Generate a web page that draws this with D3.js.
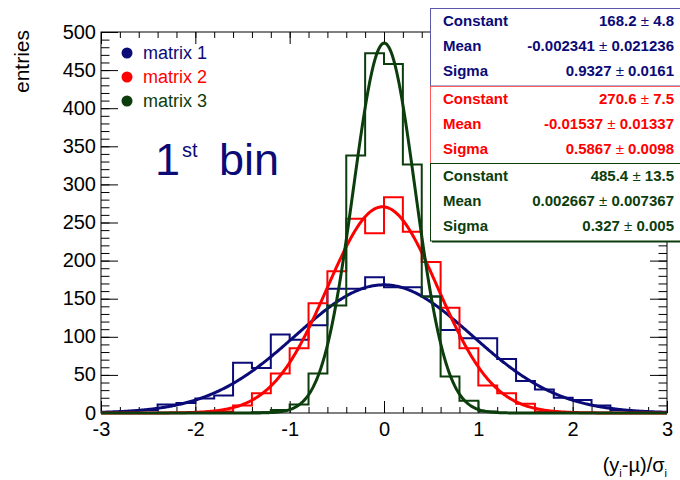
<!DOCTYPE html>
<html>
<head>
<meta charset="utf-8">
<script src="https://cdn.jsdelivr.net/npm/d3@7"></script>
<style>
  body { margin: 0; background: #fff; }
  svg { font-family: "Liberation Sans", Arial, sans-serif; }
</style>
</head>
<body>
<div id="chart"></div>
<script>
/************ pull distributions, 1st bin *****************/

// bin lower edges run from -3 to 2.8 in steps of 0.2
const binEdges = d3.range(30).map(i => -3 + i * 0.2);

// entries per bin
const matrix1 = [1, 2, 4, 11, 13, 19, 23, 66, 59, 103, 96, 115, 163, 163, 178,
                 165, 165, 153, 109, 98, 98, 71, 42, 31, 20, 17, 10, 4, 2, 1];
const matrix2 = [0, 0, 0, 0, 0, 0, 2, 10, 26, 52, 85, 144, 186, 255, 236,
                 283, 238, 198, 138, 85, 36, 26, 12, 2, 1, 0, 0, 0, 0, 0];
const matrix3 = [0, 0, 0, 0, 0, 0, 0, 0, 1, 4, 11, 52, 141, 338, 472,
                 458, 326, 153, 48, 16, 2, 0, 0, 0, 0, 0, 0, 0, 0, 0];

// gaussian fit results (constant, mean, sigma) and their errors
const fitConstant = [168.2, 270.6, 485.4];
const fitConstantErr = ["4.8", "7.5", "13.5"];
const fitMean = [-0.002341, -0.01537, 0.002667];
const fitMeanErr = ["0.021236", "0.01337", "0.007367"];
const fitSigma = [0.9327, 0.5867, 0.327];
const fitSigmaErr = ["0.0161", "0.0098", "0.005"];

const seriesNames = ["matrix 1", "matrix 2", "matrix 3"];
const seriesColors = ["#0b0b78", "#ff0000", "#0c3d0c"];
const boxBorders = ["#5a5aa8", "#ff5a5a", "#0c3d0c"];

const xTicks = [-3, -2, -1, 0, 1, 2, 3];
const yTicks = [0, 50, 100, 150, 200, 250, 300, 350, 400, 450, 500];

const width = 680, height = 480;
const frame = {left: 101, right: 667, top: 32, bottom: 413};

const x = d3.scaleLinear().domain([-3, 3]).range([frame.left, frame.right]);
const y = d3.scaleLinear().domain([0, 500]).range([frame.bottom, frame.top]);

const svg = d3.select("#chart").append("svg")
    .attr("width", width)
    .attr("height", height);

// axes, ROOT style: ticks on all four sides, pointing inward
const fmt = d => String(d);

function styleAxis(g) {
  g.select(".domain").remove();
  g.selectAll("line").attr("stroke", "#000").attr("stroke-width", 1);
  g.selectAll("text").attr("fill", "#000").attr("font-size", 20)
    .attr("font-family", "Liberation Sans, Arial, sans-serif");
}

svg.append("g").attr("transform", `translate(0,${frame.bottom})`)
    .call(d3.axisBottom(x).tickValues(d3.range(-3, 3.001, 0.2)).tickSize(-6).tickFormat(""))
    .call(styleAxis);
svg.append("g").attr("transform", `translate(0,${frame.bottom})`)
    .call(d3.axisBottom(x).tickValues(xTicks).tickSize(-12).tickPadding(8).tickFormat(fmt))
    .call(styleAxis)
    .call(g => g.selectAll("text").attr("y", 9));

svg.append("g").attr("transform", `translate(0,${frame.top})`)
    .call(d3.axisTop(x).tickValues(d3.range(-3, 3.001, 0.2)).tickSize(-6).tickFormat(""))
    .call(styleAxis);
svg.append("g").attr("transform", `translate(0,${frame.top})`)
    .call(d3.axisTop(x).tickValues(xTicks).tickSize(-12).tickFormat(""))
    .call(styleAxis);

svg.append("g").attr("transform", `translate(${frame.left},0)`)
    .call(d3.axisLeft(y).tickValues(d3.range(0, 501, 10)).tickSize(-8.5).tickFormat(""))
    .call(styleAxis);
svg.append("g").attr("transform", `translate(${frame.left},0)`)
    .call(d3.axisLeft(y).tickValues(yTicks).tickSize(-17).tickPadding(5).tickFormat(fmt))
    .call(styleAxis)
    .call(g => g.selectAll("text").attr("dy", "0.3em"));

svg.append("g").attr("transform", `translate(${frame.right},0)`)
    .call(d3.axisRight(y).tickValues(d3.range(0, 501, 10)).tickSize(-8.5).tickFormat(""))
    .call(styleAxis);
svg.append("g").attr("transform", `translate(${frame.right},0)`)
    .call(d3.axisRight(y).tickValues(yTicks).tickSize(-17).tickFormat(""))
    .call(styleAxis);

svg.append("rect")
    .attr("x", frame.left).attr("y", frame.top)
    .attr("width", frame.right - frame.left).attr("height", frame.bottom - frame.top)
    .attr("fill", "none").attr("stroke", "#000").attr("stroke-width", 1);

// histograms + fitted gaussians
const stepLine = d3.line()
    .x(d => x(d[0]))
    .y(d => y(d[1]))
    .curve(d3.curveStepAfter);

const fitLine = d3.line()
    .x(d => x(d[0]))
    .y(d => y(d[1]))
    .curve(d3.curveLinear);

const fitXs = d3.range(-3, 3.0001, 0.01);

[matrix1, matrix2, matrix3].forEach((counts, s) => {
  let pts = binEdges.map((e, i) => [e, counts[i]]);
  pts.push([3, counts[counts.length - 1]]);

  svg.append("path")
      .attr("d", stepLine(pts))
      .attr("fill", "none")
      .attr("stroke", seriesColors[s])
      .attr("stroke-width", 2);

  let gaus = fitXs.map(v => [v,
      fitConstant[s] * Math.exp(-0.5 * Math.pow((v - fitMean[s]) / fitSigma[s], 2))]);

  svg.append("path")
      .attr("d", fitLine(gaus))
      .attr("fill", "none")
      .attr("stroke", seriesColors[s])
      .attr("stroke-width", 3);
});

// legend
const legend = svg.append("g");
seriesNames.forEach((name, s) => {
  let ly = 53 + s * 24;
  legend.append("circle")
      .attr("cx", 127).attr("cy", ly).attr("r", 5.5)
      .attr("fill", seriesColors[s]);
  legend.append("text")
      .attr("x", 143).attr("y", ly + 6)
      .attr("font-size", 18)
      .attr("fill", seriesColors[s])
      .text(name);
});

// "1st bin" label
svg.append("text").attr("x", 155).attr("y", 175)
    .attr("font-size", 45).attr("fill", "#0b0b78").text("1");
svg.append("text").attr("x", 182).attr("y", 157)
    .attr("font-size", 20).attr("fill", "#0b0b78").text("st");
svg.append("text").attr("x", 219).attr("y", 175)
    .attr("font-size", 45).attr("fill", "#0b0b78").text("bin");

// axis titles
svg.append("text")
    .attr("transform", "translate(29,30) rotate(-90)")
    .attr("text-anchor", "end")
    .attr("font-size", 21)
    .text("entries");

const xTitle = svg.append("text")
    .attr("x", 667).attr("y", 472)
    .attr("text-anchor", "end")
    .attr("font-size", 20);
xTitle.append("tspan").text("(y");
xTitle.append("tspan").attr("font-size", 11).attr("dy", 5).text("i");
xTitle.append("tspan").attr("dy", -5).text("-\u00b5)/\u03c3");
xTitle.append("tspan").attr("font-size", 11).attr("dy", 5).text("i");

// stat boxes
const boxTop = [8, 86, 163];
const boxH = 77.5;
const statLabels = ["Constant", "Mean", "Sigma"];

[0, 1, 2].forEach(s => {
  let by = boxTop[s];
  if (s === 2) {
    svg.append("rect")
        .attr("x", 432).attr("y", by + 2).attr("width", 260).attr("height", boxH)
        .attr("fill", "#0c3d0c");
  }
  svg.append("rect")
      .attr("x", 430.5).attr("y", by + 0.5).attr("width", 260).attr("height", boxH)
      .attr("fill", "#fff")
      .attr("stroke", boxBorders[s])
      .attr("stroke-width", 1);

  let values = [
    [d3.format(".1f")(fitConstant[s]), fitConstantErr[s]],
    [String(fitMean[s]), fitMeanErr[s]],
    [String(fitSigma[s]), fitSigmaErr[s]]
  ];

  statLabels.forEach((lab, r) => {
    let ty = by + 18 + r * 25;
    svg.append("text")
        .attr("x", 443).attr("y", ty)
        .attr("font-size", 15).attr("font-weight", "bold")
        .attr("fill", seriesColors[s])
        .text(lab);
    let t = svg.append("text")
        .attr("x", 674).attr("y", ty)
        .attr("text-anchor", "end")
        .attr("font-size", 15).attr("font-weight", "bold")
        .attr("fill", seriesColors[s]);
    t.append("tspan").text(values[r][0]);
    t.append("tspan").attr("font-weight", "normal").text(" \u00b1 ");
    t.append("tspan").text(values[r][1]);
  });
});
</script>
</body>
</html>
